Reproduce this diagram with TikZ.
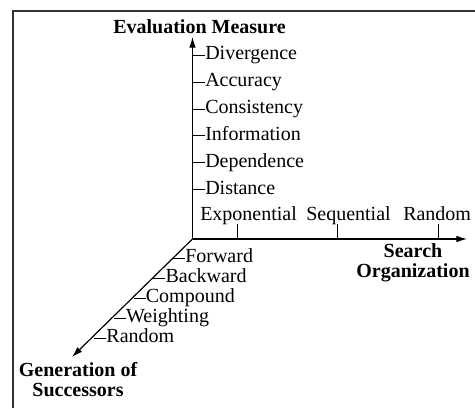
\documentclass[tikz,border=0pt]{standalone}
\usepackage{fontspec}
\setmainfont{Liberation Serif}
\usetikzlibrary{arrows.meta}

\begin{document}
\begin{tikzpicture}[x=0.75pt, y=-0.75pt, >={Latex[length=8pt, width=5pt]},
    font=\fontsize{15}{18}\selectfont,
    axis/.style={line width=0.9pt, ->},
    tick/.style={line width=0.6pt},
    lab/.style={inner sep=0pt, text height=1.48ex, text depth=0pt},
    title/.style={inner sep=0pt, align=center, font=\bfseries\fontsize{15}{15}\selectfont}]
    \useasboundingbox (0,0) rectangle (475,408);
    \draw[line width=1.1pt, black!80] (13,408) -- (13,11) -- (475,11);
    % axes
    \coordinate (O) at (192.5,239);
    \coordinate (Mtop) at (192.5,37);
    \coordinate (Sright) at (467,239);
    \coordinate (Gend) at (72,357);
    \draw[axis] (O) -- (Mtop);
    \draw[axis] (O) -- (Sright);
    \draw[axis] (O) -- (Gend);
    \node[title] (meas) at (199.5,27) {Evaluation Measure};
    \node[title] (org) at (413,263) {Search\\Organization};
    \node[title] (gen) at (78,380) {Generation of\\Successors};
    % evaluation measures
    \foreach \lab [count=\i] in {Divergence,Accuracy,Consistency,Information,Dependence,Distance}{
        \node[lab, anchor=west] (m\i) at (205, 28.2+26.9*\i) {\lab};
        \draw[tick] (m\i.west) -- (O |- m\i.west);
    }
    % search organization
    \node[lab, anchor=west] (s1) at (200,216) {Exponential};
    \node[lab, anchor=west] (s2) at (306,216) {Sequential};
    \node[lab, anchor=west] (s3) at (403,216) {Random};
    \foreach \x in {237,337,438}
        \draw[tick] (\x,239) -- (\x,224);
    % generation of successors
    \foreach \lab [count=\i] in {Forward,Backward,Compound,Weighting,Random}{
        \node[lab, anchor=west] (g\i) at (185-19.7*\i+19.7, 238.3+20*\i) {\lab};
        \draw[tick] (g\i.west) -- ++(-12,0);
    }
\end{tikzpicture}
\end{document}
